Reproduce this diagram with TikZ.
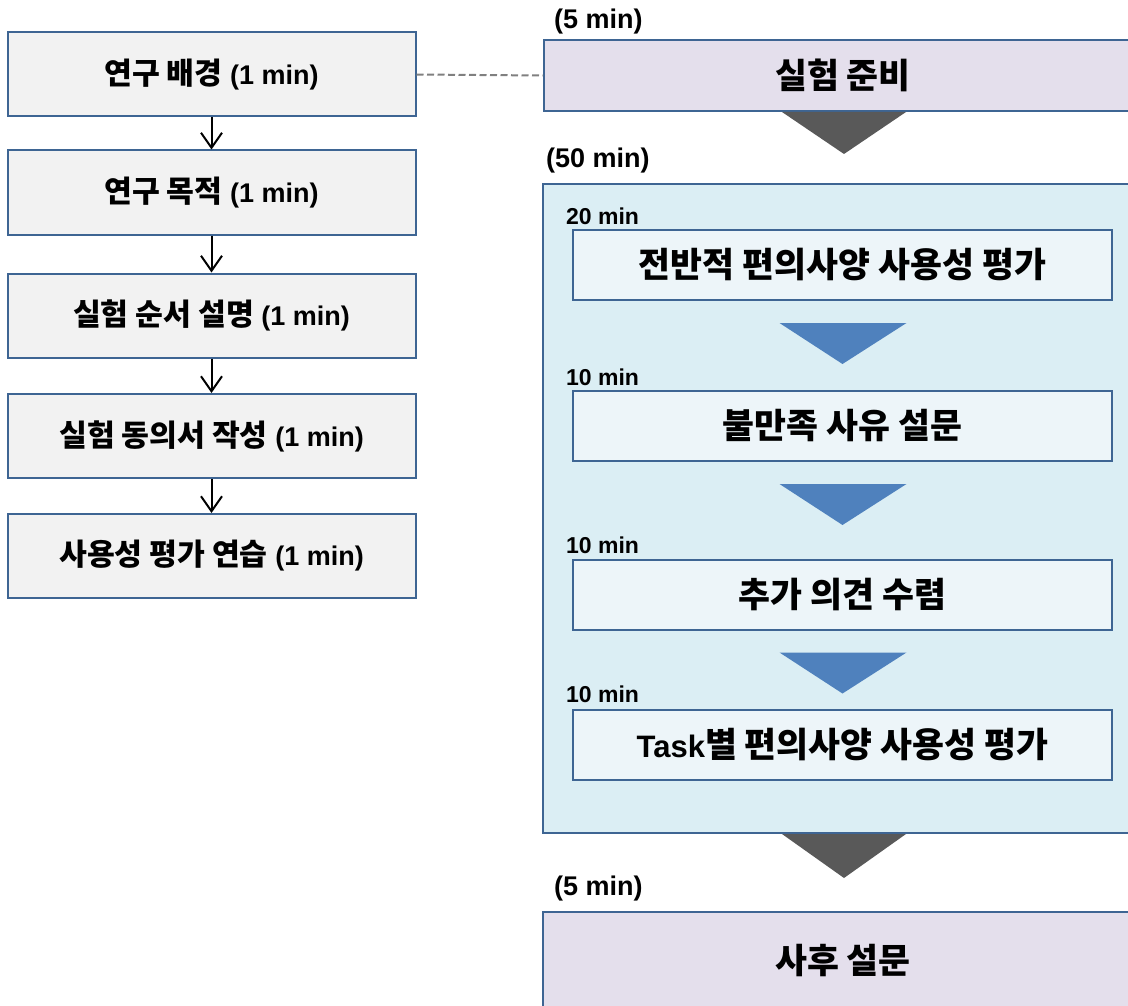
\documentclass[tikz,border=0pt]{standalone}
\usepackage{fontspec}
\setmainfont{Liberation Sans}
\newfontfamily\kr[Scale=1.12]{Noto Sans CJK KR}
\newcommand{\K}[1]{{\kr #1}}
\usetikzlibrary{arrows.meta}
\definecolor{rim}{HTML}{3E6593}
\definecolor{grayfill}{HTML}{F2F2F2}
\definecolor{lilac}{HTML}{E4DFEC}
\definecolor{pale}{HTML}{DBEEF4}
\definecolor{paler}{HTML}{EDF5F9}
\definecolor{tri}{HTML}{595959}
\definecolor{blu}{HTML}{4F81BD}

\begin{document}
\begin{tikzpicture}[x=1pt,y=-1pt,font=\bfseries,
  leftbox/.style={draw=rim,line width=2pt,fill=grayfill,minimum width=408pt,minimum height=84pt,inner sep=0pt,font=\bfseries\fontsize{27}{30}\selectfont},
  bigbox/.style={draw=rim,line width=2pt,fill=lilac,minimum width=598pt,inner sep=0pt,font=\bfseries\fontsize{31}{34}\selectfont},
  innerbox/.style={draw=rim,line width=2pt,fill=paler,minimum width=539pt,minimum height=70pt,inner sep=0pt,font=\bfseries\fontsize{31}{34}\selectfont},
  lab/.style={anchor=west,inner sep=0pt,font=\bfseries\fontsize{27}{30}\selectfont},
  sublab/.style={anchor=west,inner sep=0pt,font=\bfseries\fontsize{23}{26}\selectfont},
  flow/.style={line width=2pt,-{Straight Barb[length=15pt,width=21pt,line width=2pt]}}]
\useasboundingbox (0,0) rectangle (1128,1006);

% left column
\node[leftbox] (bg) at (211.5,74.5) {\K{연구 배경} (1 min)};
\node[leftbox] (aim) at (211.5,192.5) {\K{연구 목적} (1 min)};
\node[leftbox] (order) at (211.5,315.5) {\K{실험 순서 설명} (1 min)};
\node[leftbox] (consent) at (211.5,436) {\K{실험 동의서 작성} (1 min)};
\node[leftbox] (practice) at (211.5,556) {\K{사용성 평가 연습} (1 min)};
\draw[flow] (bg) -- (aim);
\draw[flow] (aim) -- (order);
\draw[flow] (order) -- (consent);
\draw[flow] (consent) -- (practice);

% right column
\node[lab] (tprep) at (554,22) {(5 min)};
\node[bigbox,minimum height=71pt] (prep) at (843,75.5) {\K{실험 준비}};
\draw[gray,line width=2pt,dash pattern=on 7pt off 3.5pt] (bg.east) -- (prep.west);

\node[lab] (tmain) at (546,161) {(50 min)};
\node[bigbox,fill=pale,minimum width=600pt,minimum height=649pt] (main) at (843,508.5) {};

\node[sublab] (t1) at (566,216) {20 min};
\node[innerbox] (s1) at (842.5,265) {\K{전반적 편의사양 사용성 평가}};
\node[sublab] (t2) at (566,377) {10 min};
\node[innerbox] (s2) at (842.5,426) {\K{불만족 사유 설문}};
\node[sublab] (t3) at (566,545) {10 min};
\node[innerbox] (s3) at (842.5,594.5) {\K{추가 의견 수렴}};
\node[sublab] (t4) at (566,694) {10 min};
\node[innerbox] (s4) at (842.5,745) {Task\K{별 편의사양 사용성 평가}};

\node[lab] (tpost) at (554,889) {(5 min)};
\node[bigbox,minimum width=600pt,minimum height=98pt] (post) at (843,961) {\K{사후 설문}};

% chevrons
\fill[tri] ([xshift=-61pt]prep.south) -- ([xshift=63pt]prep.south) -- ([xshift=1pt,yshift=-42pt]prep.south) -- cycle;
\foreach \a in {s1,s2,s3}
  \fill[blu] ([xshift=-63pt,yshift=-22pt]\a.south) -- ([xshift=64pt,yshift=-22pt]\a.south) -- ([yshift=-63pt]\a.south) -- cycle;
\fill[tri] ([xshift=-61pt]main.south) -- ([xshift=63pt]main.south) -- ([xshift=1pt,yshift=-44pt]main.south) -- cycle;
\end{tikzpicture}
\end{document}
